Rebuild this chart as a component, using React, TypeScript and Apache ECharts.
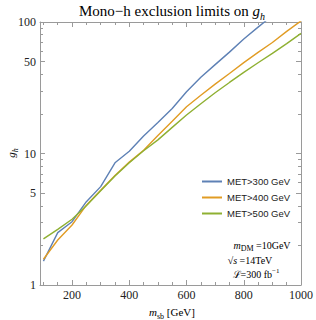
import React, { useEffect, useRef } from "react";
import * as echarts from "echarts";

// ---- data ----
const massGeV = [100, 150, 200, 250, 300, 350, 400, 450, 500, 550, 600, 650, 700, 750, 800, 850, 900, 950, 1000];
const met300 = [1.52, 2.5, 3.03, 4.3, 5.6, 8.5, 10.4, 13.6, 17.2, 22, 29.5, 38, 47.4, 59, 74.3, 91.4, 112];
const met400 = [1.57, 2.2, 2.86, 4.05, 5.25, 6.8, 8.6, 10.6, 13.7, 17.6, 22.7, 27.7, 33.7, 40.6, 49.1, 58.7, 69.8, 84.8, 102];
const met500 = [2.24, 2.65, 3.16, 4.0, 5.2, 6.75, 8.5, 10.5, 12.7, 15.8, 19.6, 23.9, 29, 34.7, 41.4, 49, 57.7, 68.4, 82];
const seriesNames = ["MET>300 GeV", "MET>400 GeV", "MET>500 GeV"];
const xMajorTicks = [200, 400, 600, 800, 1000];
const xMinorTicks = [100, 150, 250, 300, 350, 450, 500, 550, 650, 700, 750, 850, 900, 950];
const yMajorTicks = [1, 5, 10, 50, 100];
const yMinorTicks = [2, 3, 4, 6, 7, 8, 9, 20, 30, 40, 60, 70, 80, 90];

const COLORS = ["#5E81B5", "#E19C24", "#8FB032"];
const FRAME = "#9a9a9a";
const SERIF = "'Liberation Serif', 'DejaVu Serif', serif";
const SANS = "'Liberation Sans', 'DejaVu Sans', sans-serif";

function xAxisCfg(position: "bottom" | "top", major: boolean, labels: boolean) {
  return {
    type: "value",
    position,
    min: 88,
    max: 1000,
    axisLine: { show: major, onZero: false, lineStyle: { color: FRAME, width: 1 } },
    axisTick: {
      show: true,
      inside: true,
      length: major ? 5 : 3,
      customValues: major ? xMajorTicks : xMinorTicks,
      lineStyle: { color: FRAME, width: 1 },
    },
    axisLabel: {
      show: labels,
      customValues: xMajorTicks,
      formatter: (v: number) => String(v),
      margin: 4,
      fontFamily: SERIF,
      fontSize: 12,
      color: "#222",
    },
    splitLine: { show: false },
  };
}

function yAxisCfg(position: "left" | "right", major: boolean, labels: boolean) {
  return {
    type: "log",
    logBase: 10,
    position,
    min: 1,
    max: 100,
    axisLine: { show: major, onZero: false, lineStyle: { color: FRAME, width: 1 } },
    axisTick: {
      show: true,
      inside: true,
      length: major ? 5 : 3,
      customValues: major ? yMajorTicks : yMinorTicks,
      lineStyle: { color: FRAME, width: 1 },
    },
    axisLabel: {
      show: labels,
      customValues: yMajorTicks,
      formatter: (v: number) => String(v),
      margin: 4,
      fontFamily: SERIF,
      fontSize: 12,
      color: "#222",
    },
    splitLine: { show: false },
  };
}

const toPairs = (vals: number[]) => vals.map((v, i) => [massGeV[i], v]);

export default function App() {
  const ref = useRef<HTMLDivElement>(null);
  useEffect(() => {
    if (!ref.current) return;
    const chart = echarts.init(ref.current, null, { renderer: "svg" });
    const lineSeries = [met300, met400, met500].map((vals, i) => ({
      type: "line",
      name: seriesNames[i],
      data: toPairs(vals),
      xAxisIndex: 0,
      yAxisIndex: 0,
      showSymbol: false,
      symbol: "none",
      clip: true,
      lineStyle: { color: COLORS[i], width: 1.4 },
      itemStyle: { color: COLORS[i] },
    }));
    const baseRich = {
      n: { fontFamily: SERIF, fontSize: 15, lineHeight: 20, color: "#111", verticalAlign: "middle" },
      i: { fontFamily: SERIF, fontSize: 15, lineHeight: 20, fontStyle: "italic", color: "#111", verticalAlign: "middle" },
      s: { fontFamily: SERIF, fontSize: 10, lineHeight: 10, fontStyle: "italic", color: "#111", verticalAlign: "bottom" },
    };
    const smallRich = {
      n: { fontFamily: SERIF, fontSize: 11, lineHeight: 16, color: "#111", verticalAlign: "middle" },
      i: { fontFamily: SERIF, fontSize: 11, lineHeight: 16, fontStyle: "italic", color: "#111", verticalAlign: "middle" },
      s: { fontFamily: SERIF, fontSize: 8, lineHeight: 8, color: "#111", verticalAlign: "bottom" },
      si: { fontFamily: SERIF, fontSize: 8, lineHeight: 8, fontStyle: "italic", color: "#111", verticalAlign: "bottom" },
      p: { fontFamily: SERIF, fontSize: 7, lineHeight: 7, color: "#111", verticalAlign: "top" },
    };
    const noteRich = {
      n: { fontFamily: SERIF, fontSize: 10, lineHeight: 14, color: "#111", verticalAlign: "middle" },
      i: { fontFamily: SERIF, fontSize: 10, lineHeight: 14, fontStyle: "italic", color: "#111", verticalAlign: "middle" },
      L: { fontFamily: "'DejaVu Serif', serif", fontSize: 10, lineHeight: 14, color: "#111", verticalAlign: "middle" },
      s: { fontFamily: SERIF, fontSize: 8, lineHeight: 8, color: "#111", verticalAlign: "bottom" },
      p: { fontFamily: SERIF, fontSize: 7, lineHeight: 7, color: "#111", verticalAlign: "top" },
    };
    chart.setOption({
      animation: false,
      backgroundColor: "#ffffff",
      grid: { left: 40, right: 13, top: 22, bottom: 35, containLabel: false },
      xAxis: [
        xAxisCfg("bottom", true, true),
        xAxisCfg("bottom", false, false),
        xAxisCfg("top", true, false),
        xAxisCfg("top", false, false),
      ],
      yAxis: [
        yAxisCfg("left", true, true),
        yAxisCfg("left", false, false),
        yAxisCfg("right", true, false),
        yAxisCfg("right", false, false),
      ],
      legend: {
        orient: "vertical",
        left: 197,
        top: 171,
        icon: "rect",
        itemWidth: 20,
        itemHeight: 2,
        itemGap: 5,
        data: seriesNames,
        textStyle: { fontFamily: SANS, fontSize: 9.5, lineHeight: 11, color: "#222" },
      },
      series: lineSeries,
      graphic: [
        {
          type: "text",
          x: 172,
          y: 11,
          style: {
            text: "{n|Mono−h exclusion limits on }{i|g}{s|h}",
            rich: baseRich,
            align: "center",
            verticalAlign: "middle",
          },
        },
        {
          type: "text",
          x: 172,
          y: 312,
          style: {
            text: "{i|m}{s|sb}{n| [GeV]}",
            rich: smallRich,
            align: "center",
            verticalAlign: "middle",
          },
        },
        {
          type: "text",
          x: 11,
          y: 153,
          rotation: Math.PI / 2,
          style: {
            text: "{i|g}{si|h}",
            rich: smallRich,
            align: "center",
            verticalAlign: "middle",
          },
        },
        {
          type: "text",
          x: 262,
          y: 245,
          style: {
            text: "{i|m}{s|DM}{n| =10GeV}",
            rich: noteRich,
            align: "center",
            verticalAlign: "middle",
          },
        },
        {
          type: "text",
          x: 250,
          y: 260,
          style: {
            text: "{n|√}{i|s}{n| =14TeV}",
            rich: noteRich,
            align: "center",
            verticalAlign: "middle",
          },
        },
        {
          type: "text",
          x: 256,
          y: 274,
          style: {
            text: "{L|ℒ}{n|=300 fb}{p|−1}",
            rich: noteRich,
            align: "center",
            verticalAlign: "middle",
          },
        },
      ],
    });
    return () => chart.dispose();
  }, []);
  return (
    <div
      ref={ref}
      style={{ position: "fixed", left: 0, top: 0, width: 316, height: 320, background: "#fff" }}
    />
  );
}
